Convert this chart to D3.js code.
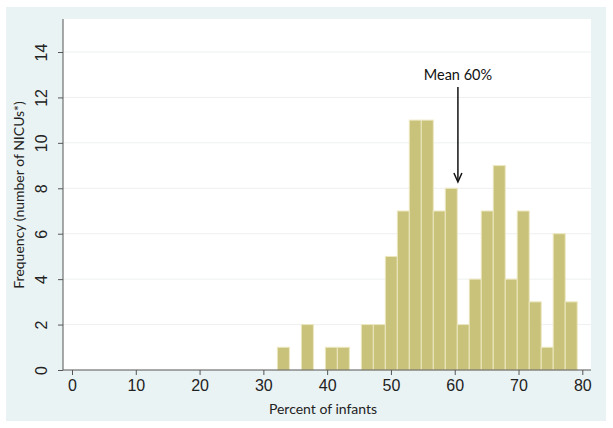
<!DOCTYPE html>
<html><head><meta charset="utf-8">
<script src="https://cdn.jsdelivr.net/npm/d3@7"></script>
<style>html,body{margin:0;padding:0;background:#fff;}svg{display:block;}</style>
</head><body>
<svg id="chart" width="613" height="428"></svg>
<script>
// Histogram bins (percent of infants) and frequencies (number of NICUs)
const binEdges = [32.20, 34.08, 35.96, 37.84, 39.72, 41.60, 43.48, 45.36, 47.24, 49.12, 51.00, 52.88, 54.76,
                  56.64, 58.52, 60.40, 62.28, 64.16, 66.04, 67.92, 69.80, 71.68, 73.56, 75.44, 77.32, 79.20];
const frequencies = [1, 0, 2, 0, 1, 1, 0, 2, 2, 5, 7, 11, 11, 7, 8, 2, 4, 7, 9, 4, 7, 3, 1, 6, 3];
const xTicks = [0, 10, 20, 30, 40, 50, 60, 70, 80];
const yTicks = [0, 2, 4, 6, 8, 10, 12, 14];
const meanValue = 60.5;
const meanLabel = "Mean 60%";
const xTitle = "Percent of infants";
const yTitle = "Frequency (number of NICUs*)";

const svg = d3.select("#chart");
const W = 613, H = 428;
const plot = {left: 63, right: 591, top: 19, bottom: 370};

// outer panel
svg.append("rect").attr("x", 0).attr("y", 0).attr("width", W).attr("height", H).attr("fill", "#ffffff");
svg.append("rect").attr("x", 6).attr("y", 7).attr("width", 600).attr("height", 414).attr("fill", "#eaf3f4");
svg.append("rect").attr("x", plot.left).attr("y", plot.top).attr("width", plot.right - plot.left)
  .attr("height", plot.bottom - plot.top).attr("fill", "#ffffff");

const x = d3.scaleLinear().domain([0, 80]).range([72, 582.3]);
const y = d3.scaleLinear().domain([0, 14]).range([370, 52]);

// gridlines
svg.append("g").selectAll("line").data(yTicks.filter(d => d > 0)).join("line")
  .attr("x1", plot.left).attr("x2", plot.right)
  .attr("y1", d => y(d)).attr("y2", d => y(d))
  .attr("stroke", "#eef0f0").attr("stroke-width", 1);

// bars
const bins = frequencies.map((f, i) => ({x0: binEdges[i], x1: binEdges[i + 1], f}));
svg.append("g").selectAll("rect").data(bins.filter(d => d.f > 0)).join("rect")
  .attr("x", d => x(d.x0)).attr("width", d => x(d.x1) - x(d.x0))
  .attr("y", d => y(d.f)).attr("height", d => y(0) - y(d.f))
  .attr("fill", "#c9c27b").attr("stroke", "#ece7bf").attr("stroke-width", 1);

// x axis
const xAxis = svg.append("g").attr("transform", `translate(0,${plot.bottom})`)
  .call(d3.axisBottom(x).tickValues(xTicks).tickSize(5).tickPadding(5).tickSizeOuter(0));
xAxis.select(".domain").attr("d", `M${plot.left},0H${plot.right}`).attr("stroke", "#555");
xAxis.selectAll(".tick line").attr("stroke", "#555");
xAxis.selectAll(".tick text").attr("font-family", "Liberation Sans, Arial, sans-serif")
  .attr("font-size", 16).attr("fill", "#222");

// y axis
const yAxis = svg.append("g").attr("transform", `translate(${plot.left},0)`)
  .call(d3.axisLeft(y).tickValues(yTicks).tickSize(5).tickSizeOuter(0));
yAxis.select(".domain").attr("d", `M0,${plot.top}V${plot.bottom}`).attr("stroke", "#555");
yAxis.selectAll(".tick line").attr("stroke", "#555");
yAxis.selectAll(".tick text")
  .attr("x", null).attr("dy", null)
  .attr("transform", "translate(-22,0) rotate(-90)")
  .attr("text-anchor", "middle").attr("dominant-baseline", "central")
  .attr("font-family", "Liberation Sans, Arial, sans-serif")
  .attr("font-size", 16).attr("fill", "#222");

// titles
svg.append("text").attr("x", 323).attr("y", 414).attr("text-anchor", "middle")
  .attr("font-family", "Lato, 'Open Sans', sans-serif").attr("font-size", 14).attr("fill", "#222")
  .text(xTitle);
svg.append("text").attr("transform", `translate(24,195) rotate(-90)`).attr("text-anchor", "middle")
  .attr("font-family", "Lato, 'Open Sans', sans-serif").attr("font-size", 14).attr("fill", "#222")
  .text(yTitle);

// mean annotation
svg.append("text").attr("x", x(meanValue)).attr("y", 80).attr("text-anchor", "middle")
  .attr("font-family", "Lato, 'Open Sans', sans-serif").attr("font-size", 14.5).attr("fill", "#111")
  .text(meanLabel);
svg.append("line").attr("x1", x(meanValue)).attr("x2", x(meanValue))
  .attr("y1", 87).attr("y2", 181).attr("stroke", "#111").attr("stroke-width", 1.5);
svg.append("path")
  .attr("d", `M${x(meanValue) - 4},${173}L${x(meanValue)},${182}L${x(meanValue) + 4},${173}`)
  .attr("fill", "none").attr("stroke", "#111").attr("stroke-width", 1.5);
</script>
</body></html>
